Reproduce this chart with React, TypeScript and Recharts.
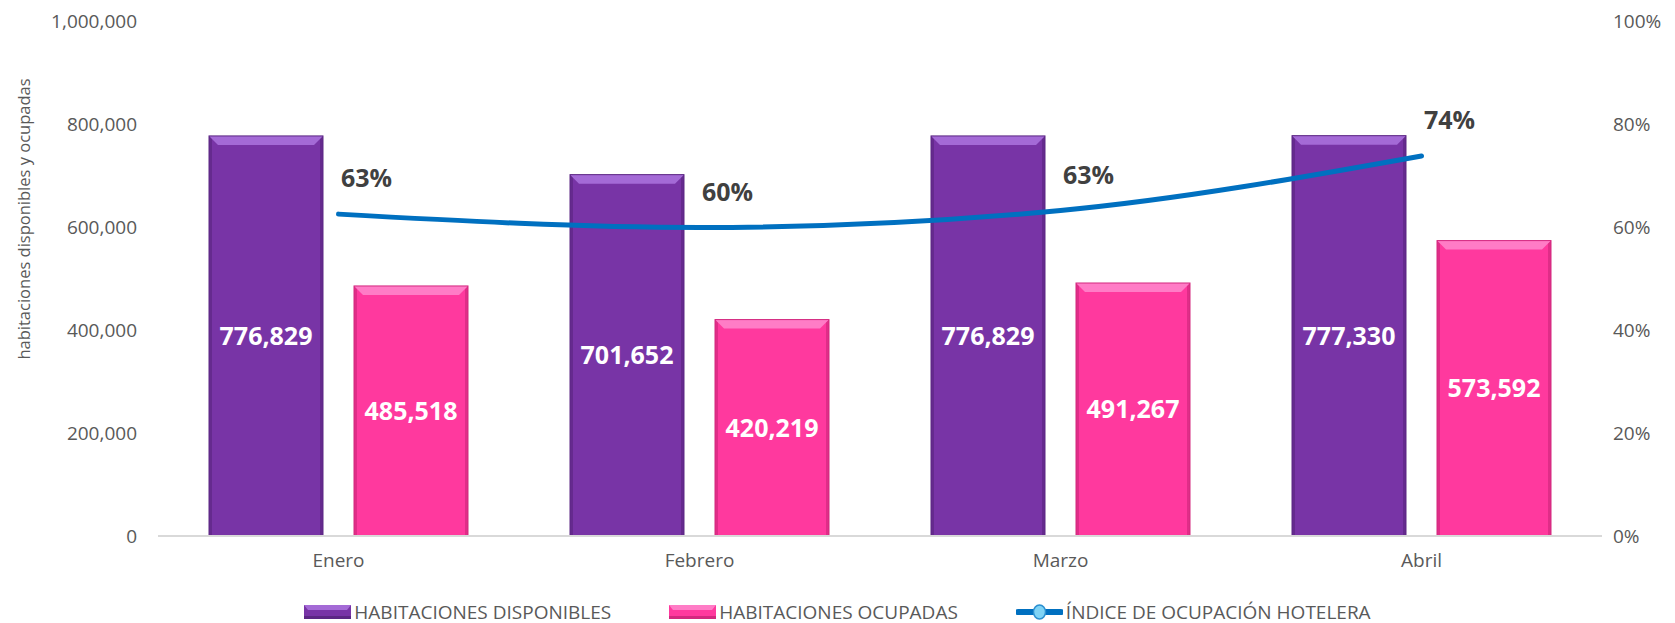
// Habitaciones disponibles / ocupadas e índice de ocupación hotelera, enero–abril
import React from "react";
import {
  ComposedChart,
  Bar,
  Line,
  XAxis,
  YAxis,
  Legend,
  LabelList,
} from "recharts";

const meses = ["Enero", "Febrero", "Marzo", "Abril"];
const disponibles = [776829, 701652, 776829, 777330];
const ocupadas = [485518, 420219, 491267, 573592];
const indice = [0.625, 0.599, 0.632, 0.738];
const ticksIzq = [0, 200000, 400000, 600000, 800000, 1000000];
const ticksDer = [0, 0.2, 0.4, 0.6, 0.8, 1];

const data = meses.map((mes, i) => ({
  mes,
  disponibles: disponibles[i],
  ocupadas: ocupadas[i],
  indice: indice[i],
}));

const FONT = "'Open Sans', sans-serif";
const GRIS = "#595959";
const MORADO = { main: "#7834a6", light: "#a46ad6", dark: "#5c2784" };
const ROSA = { main: "#ff399e", light: "#ff7cc6", dark: "#d3287f" };
const AZUL = "#0070c0";

const fmtMiles = (v: number) => v.toLocaleString("en-US");
const fmtPct = (v: number) => `${Math.round(v * 100)}%`;

function BarraBisel(props: any) {
  const { x, y, width, height, colores } = props;
  if (!height || height <= 0) return null;
  const b = 9;
  const s = 3;
  return (
    <g>
      <rect x={x} y={y} width={width} height={height} fill={colores.main} />
      <rect x={x} y={y} width={s} height={height} fill={colores.dark} opacity={0.7} />
      <rect x={x + width - s} y={y} width={s} height={height} fill={colores.dark} opacity={0.7} />
      <polygon
        points={`${x},${y} ${x + width},${y} ${x + width - b},${y + b} ${x + b},${y + b}`}
        fill={colores.light}
      />
      <rect x={x} y={y} width={width} height={height} fill="none" stroke={colores.dark} strokeWidth={1} />
    </g>
  );
}

function EtiquetaIndice(props: any) {
  const { x, y, value } = props;
  return (
    <text
      x={x + 28}
      y={y - 37}
      textAnchor="middle"
      dominantBaseline="central"
      fill="#404040"
      fontSize={25}
      fontWeight="bold"
      fontFamily={FONT}
    >
      {fmtPct(value)}
    </text>
  );
}

function EtiquetaEjeY() {
  return (
    <text
      x={23}
      y={219}
      transform="rotate(-90 23 219)"
      textAnchor="middle"
      dominantBaseline="central"
      fill={GRIS}
      fontSize={16.5}
      fontFamily={FONT}
    >
      habitaciones disponibles y ocupadas
    </text>
  );
}

function IconoBarra({ colores }: { colores: typeof MORADO }) {
  return (
    <svg width={47} height={14} style={{ display: "block" }}>
      <rect x={0} y={0} width={47} height={14} fill={colores.main} />
      <polygon points="0,0 47,0 43,5 4,5" fill={colores.light} />
      <rect x={0} y={11} width={47} height={3} fill={colores.dark} />
    </svg>
  );
}

function IconoLinea() {
  return (
    <svg width={47} height={16} style={{ display: "block" }}>
      <line x1={2} y1={8} x2={45} y2={8} stroke={AZUL} strokeWidth={6} strokeLinecap="round" />
      <ellipse cx={23.5} cy={8} rx={6} ry={7} fill="#7fd3f5" stroke="#2a8fd0" strokeWidth={1.5} />
    </svg>
  );
}

function Leyenda() {
  const items = [
    { icono: <IconoBarra colores={MORADO} />, texto: "HABITACIONES DISPONIBLES" },
    { icono: <IconoBarra colores={ROSA} />, texto: "HABITACIONES OCUPADAS" },
    { icono: <IconoLinea />, texto: "ÍNDICE DE OCUPACIÓN HOTELERA" },
  ];
  return (
    <div
      style={{
        display: "flex",
        justifyContent: "center",
        alignItems: "center",
        gap: 58,
        height: 22,
        fontFamily: FONT,
        fontSize: 19,
        color: GRIS,
      }}
    >
      {items.map((it) => (
        <div key={it.texto} style={{ display: "flex", alignItems: "center", gap: 3 }}>
          {it.icono}
          <span style={{ whiteSpace: "nowrap" }}>{it.texto}</span>
        </div>
      ))}
    </div>
  );
}

export default function App() {
  return (
    <div style={{ position: "absolute", left: 0, top: 0, background: "#fff" }}>
      <ComposedChart
        width={1675}
        height={623}
        data={data}
        margin={{ top: 21, right: 0, bottom: 25, left: 0 }}
        barGap={31}
        barSize={114}
      >
        <XAxis
          dataKey="mes"
          height={40}
          tickLine={false}
          tickSize={0}
          tickMargin={18}
          axisLine={{ stroke: "#d9d9d9", strokeWidth: 2 }}
          tick={{ fill: GRIS, fontSize: 19, fontFamily: FONT }}
        />
        <YAxis
          yAxisId="izq"
          width={158}
          domain={[0, 1000000]}
          ticks={ticksIzq}
          tickFormatter={fmtMiles}
          axisLine={false}
          tickLine={false}
          tickSize={0}
          tickMargin={21}
          tick={{ fill: GRIS, fontSize: 19, fontFamily: FONT }}
          label={<EtiquetaEjeY />}
        />
        <YAxis
          yAxisId="der"
          orientation="right"
          width={73}
          domain={[0, 1]}
          ticks={ticksDer}
          tickFormatter={fmtPct}
          axisLine={false}
          tickLine={false}
          tickSize={0}
          tickMargin={11}
          tick={{ fill: GRIS, fontSize: 19, fontFamily: FONT }}
        />
        <Legend
          verticalAlign="bottom"
          content={() => <Leyenda />}
          wrapperStyle={{ bottom: 0, left: 0, width: 1675 }}
        />
        <Bar
          yAxisId="izq"
          dataKey="disponibles"
          name="HABITACIONES DISPONIBLES"
          fill={MORADO.main}
          shape={(p: any) => <BarraBisel {...p} colores={MORADO} />}
          isAnimationActive={false}
        >
          <LabelList
            dataKey="disponibles"
            position="center"
            formatter={(v: any) => fmtMiles(Number(v))}
            fill="#ffffff"
            fontSize={25}
            fontWeight="bold"
            fontFamily={FONT}
          />
        </Bar>
        <Bar
          yAxisId="izq"
          dataKey="ocupadas"
          name="HABITACIONES OCUPADAS"
          fill={ROSA.main}
          shape={(p: any) => <BarraBisel {...p} colores={ROSA} />}
          isAnimationActive={false}
        >
          <LabelList
            dataKey="ocupadas"
            position="center"
            formatter={(v: any) => fmtMiles(Number(v))}
            fill="#ffffff"
            fontSize={25}
            fontWeight="bold"
            fontFamily={FONT}
          />
        </Bar>
        <Line
          yAxisId="der"
          type="monotone"
          dataKey="indice"
          name="ÍNDICE DE OCUPACIÓN HOTELERA"
          stroke={AZUL}
          strokeWidth={5}
          strokeLinecap="round"
          dot={false}
          activeDot={false}
          isAnimationActive={false}
        >
          <LabelList dataKey="indice" content={<EtiquetaIndice />} />
        </Line>
      </ComposedChart>
    </div>
  );
}
